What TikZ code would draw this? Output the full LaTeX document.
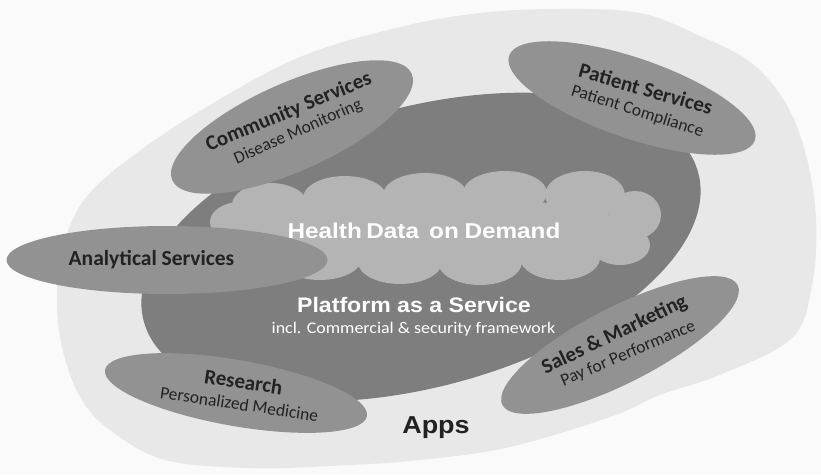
\documentclass[tikz,border=0pt]{standalone}
\usepackage{fontspec}
\setmainfont{Carlito}
\newfontfamily\arialb{Liberation Sans}
\usetikzlibrary{shapes.geometric}
\definecolor{bgc}{HTML}{FAFAFA}
\definecolor{outerc}{HTML}{E8E8E8}
\definecolor{platc}{HTML}{7E7E7E}
\definecolor{appc}{HTML}{929292}
\definecolor{cloudc}{HTML}{B4B4B4}
\definecolor{txtc}{HTML}{222222}
\begin{document}
\begin{tikzpicture}[x=1pt,y=-1pt,
  blob/.style={ellipse, fill=appc, inner sep=0pt, draw=none},
  ttl/.style={font=\fontsize{21}{21}\selectfont\bfseries, text=txtc, anchor=base, inner sep=0pt},
  subt/.style={font=\fontsize{17.5}{17.5}\selectfont, text=txtc, anchor=base, inner sep=0pt},
  wt/.style={text=white, anchor=base, inner sep=0pt}]
\fill[bgc] (0,0) rectangle (821,474);
\useasboundingbox (0,0) rectangle (821,474);
% outer Apps area
\fill[outerc] plot[smooth cycle, tension=0.6] coordinates {
 (560,9) (640,13) (700,36) (750,62) (785,102) (806,155) (816,220) (812,285)
 (792,338) (722,374) (660,395) (610,417) (510,447) (420,460) (330,466) (250,468)
 (165,460) (110,430) (80,397) (62,347) (57,300) (62,250) (84,200) (130,158)
 (205,108) (300,57) (400,27) (480,13)};
% platform
\node[ellipse, fill=platc, inner sep=0pt, minimum width=574pt, minimum height=280pt, rotate=15] (plat) at (421,247) {};
% cloud
\fill[cloudc] (435,232) ellipse [x radius=200, y radius=35];
\foreach \cx/\cy/\rx/\ry in {270/205/38/22, 345/198/42/22, 425/195/42/22, 505/193/42/22,
  585/195/40/24, 635/215/26/24, 240/222/30/20, 620/245/30/20, 560/258/40/22,
  480/262/42/23, 400/262/42/22, 320/258/42/22, 255/245/30/20}
  \fill[cloudc] (\cx,\cy) ellipse [x radius=\rx, y radius=\ry];
% app ellipses
\node[blob, minimum width=262pt, minimum height=88pt, rotate=24] (comm) at (292,127) {};
\node[blob, minimum width=260pt, minimum height=80pt, rotate=-19] (pat) at (632,98) {};
\node[blob, minimum width=321pt, minimum height=68pt] (anal) at (167,260) {};
\node[blob, minimum width=266pt, minimum height=66pt, rotate=-10] (res) at (236,393) {};
\node[blob, minimum width=264pt, minimum height=76pt, rotate=27] (sales) at (620,345) {};
% texts
\node[ttl, rotate=22.5] (commt) at (291,117.5) {Community Services};
\node[subt, rotate=24] (comms) at (300,136) {Disease Monitoring};
\node[ttl, rotate=-16] (patt) at (644,96) {Patient Services};
\node[subt, rotate=-17.5] (pats) at (636,116) {Patient Compliance};
\node[ttl, font=\fontsize{21.5}{21.5}\selectfont\bfseries] (analt) at (151.5,265) {Analytical Services};
\node[ttl, rotate=-8.5] (rest) at (242.5,389) {Research};
\node[subt, rotate=-8.4] (ress) at (238.5,410) {Personalized Medicine};
\node[ttl, rotate=25.6] (salest) at (617,340) {Sales \& Marketing};
\node[subt, rotate=23] (saless) at (630,358) {Pay for Performance};
\node[wt, xscale=1.13, font=\arialb\fontsize{21.5}{21.5}\selectfont\bfseries] (cloudt) at (424,238) {Health\hspace{4pt}Data\hspace{9pt}on\hspace{5pt}Demand};
\node[wt, xscale=1.1, font=\arialb\fontsize{21}{21}\selectfont\bfseries] (platt) at (414,312) {Platform as a Service};
\node[wt, xscale=1.1, font=\fontsize{16.3}{16.3}\selectfont] (plats) at (413.5,333) {incl. Commercial \& security framework};
\node[anchor=base, inner sep=0pt, text=txtc, xscale=1.1, font=\arialb\fontsize{24.5}{24.5}\selectfont\bfseries] (apps) at (436,433) {Apps};
\end{tikzpicture}
\end{document}
